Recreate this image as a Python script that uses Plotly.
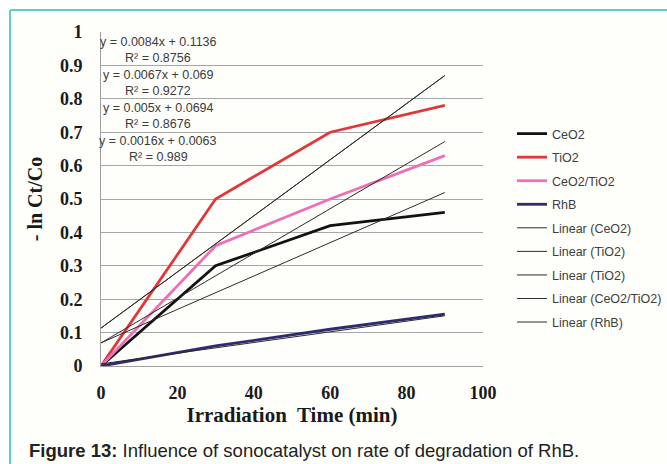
import numpy as np
import plotly.graph_objects as go

# ---- data ----
time_min = [0, 30, 60, 90]
ceo2 = [0.0, 0.30, 0.42, 0.46]
tio2 = [0.0, 0.50, 0.70, 0.78]
ceo2_tio2 = [0.0, 0.36, 0.50, 0.63]
rhb = [0.0, 0.06, 0.11, 0.155]

series_names = ["CeO2", "TiO2", "CeO2/TiO2", "RhB"]
series_colors = ["#111111", "#e0383a", "#ee6fb5", "#2e2a70"]

# linear trendlines (slope, intercept) as printed on the chart
trend_names = ["Linear (CeO2)", "Linear (TiO2)", "Linear (TiO2)", "Linear (CeO2/TiO2)", "Linear (RhB)"]
trend_slopes = [0.005, 0.0084, 0.0084, 0.0067, 0.0016]
trend_intercepts = [0.0694, 0.1136, 0.1136, 0.069, 0.0063]
trend_x = [0, 90]

eq_texts = ["y = 0.0084x + 0.1136", "y = 0.0067x + 0.069", "y = 0.005x + 0.0694", "y = 0.0016x + 0.0063"]
r2_texts = ["R² = 0.8756", "R² = 0.9272", "R² = 0.8676", "R² = 0.989"]

x_ticks = [0, 20, 40, 60, 80, 100]
y_ticks = [0, 0.1, 0.2, 0.3, 0.4, 0.5, 0.6, 0.7, 0.8, 0.9, 1]
y_ticklabels = ["0", "0.1", "0.2", "0.3", "0.4", "0.5", "0.6", "0.7", "0.8", "0.9", "1"]

# ---- layout geometry (pixels) ----
W, H = 667, 464
L, R, T, B = 101, 184, 32, 98
PW, PH = W - L - R, H - T - B


def px(xp):
    return (xp - L) / PW


def py(yp):
    return (H - B - yp) / PH


fig = go.Figure()
for i, (name, vals) in enumerate(zip(series_names, [ceo2, tio2, ceo2_tio2, rhb])):
    fig.add_trace(go.Scatter(x=time_min, y=vals, mode="lines", name=name,
                             line=dict(color=series_colors[i], width=2.8),
                             legendgroup=f"g{i}"))

tx = np.array(trend_x, dtype=float)
for j, (name, m, c) in enumerate(zip(trend_names, trend_slopes, trend_intercepts)):
    fig.add_trace(go.Scatter(x=tx, y=m * tx + c, mode="lines", name=name,
                             line=dict(color="#2b2b2b", width=1),
                             legendgroup=f"t{j}"))

# equation labels
eq_y = [42, 75, 108, 141]
for k in range(4):
    fig.add_annotation(xref="paper", yref="paper", x=px(158), y=py(eq_y[k]),
                       text=eq_texts[k], showarrow=False, xanchor="center", yanchor="middle",
                       font=dict(family="Liberation Sans", size=12.5, color="#3c3c3c"))
    fig.add_annotation(xref="paper", yref="paper", x=px(158), y=py(eq_y[k] + 16),
                       text=r2_texts[k], showarrow=False, xanchor="center", yanchor="middle",
                       font=dict(family="Liberation Sans", size=12.5, color="#3c3c3c"))

# caption
fig.add_annotation(xref="paper", yref="paper", x=px(27), y=py(450),
                   text="<b>Figure 13:</b> Influence of sonocatalyst on rate of degradation of RhB.",
                   showarrow=False, xanchor="left", yanchor="middle",
                   font=dict(family="Liberation Sans", size=18.5, color="#222222"))

# frame background and teal border
fig.add_shape(type="rect", xref="paper", yref="paper", x0=px(10), x1=px(W + 5), y0=py(H + 5), y1=py(10),
              fillcolor="#fefefa", line=dict(width=0), layer="below")
fig.add_shape(type="line", xref="paper", yref="paper", x0=px(10), x1=px(W + 5), y0=py(10), y1=py(10),
              line=dict(color="#5cd2bd", width=2), layer="below")
fig.add_shape(type="line", xref="paper", yref="paper", x0=px(10), x1=px(10), y0=py(10), y1=py(H + 5),
              line=dict(color="#5cd2bd", width=2), layer="below")

serif_bold = dict(family="Liberation Serif", size=18, color="#1a1a1a", weight="bold")

fig.update_layout(
    width=W, height=H,
    margin=dict(l=L, r=R, t=T, b=B, pad=0, autoexpand=False),
    paper_bgcolor="white",
    plot_bgcolor="rgba(0,0,0,0)",
    showlegend=True,
    legend=dict(x=px(512), y=py(119), xanchor="left", yanchor="top",
                font=dict(family="Liberation Sans", size=12.5, color="#404040"),
                tracegroupgap=4.3, bgcolor="rgba(0,0,0,0)", itemwidth=30),
    xaxis=dict(range=[0, 100], tickvals=x_ticks, showgrid=False, zeroline=False,
               showline=True, linecolor="#a0a0a0", linewidth=1,
               tickfont=serif_bold, ticks="", ticklabelstandoff=10,
               title=dict(text="Irradiation  Time (min)", font=dict(family="Liberation Serif", size=21,
                                                                      color="#1a1a1a", weight="bold"),
                          standoff=4)),
    yaxis=dict(range=[0, 1], tickvals=y_ticks, ticktext=y_ticklabels, showgrid=True,
               gridcolor="#a6a6a6", gridwidth=1, zeroline=False,
               showline=True, linecolor="#a0a0a0", linewidth=1,
               tickfont=serif_bold, ticks="", ticklabelstandoff=14,
               title=dict(text="- ln Ct/Co", font=dict(family="Liberation Serif", size=20,
                                                          color="#1a1a1a", weight="bold"),
                          standoff=11)),
)

fig.write_html("out.html")
